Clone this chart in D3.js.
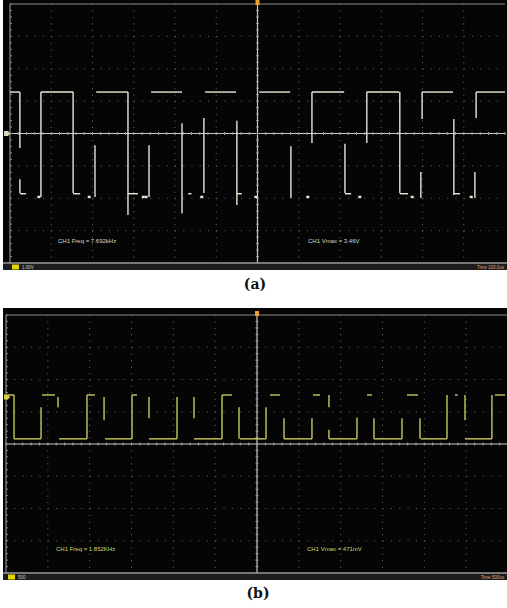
<!DOCTYPE html>
<html>
<head>
<meta charset="utf-8">
<script src="https://cdn.jsdelivr.net/npm/d3@7"></script>
<style>
  body { margin: 0; background: #fff; }
  svg { display: block; }
</style>
</head>
<body>
<svg id="chart" width="507" height="608"></svg>
<script>
// ---- data read off the two scope captures ----
// (a): time in us (100 us/div), level in V (1 V/div)
var aHighRuns = [[-600,-576],[-525,-447],[-391,-314],[-258,-183],[-127,-52],[4,79],[132,210],[265,343],[399,474],[530,600]];
var aHighLevel = 1.28;
var aEdges = [
  [-576, 1.28, -0.45], [-576, -1.41, -1.84], [-525, 1.28, -1.96], [-447, 1.28, -1.84],
  [-394, -0.36, -1.96], [-314, 1.28, -2.52], [-263, -0.36, -1.96], [-183, 0.32, -2.46],
  [-130, 0.48, -1.84], [-50, 0.39, -2.21], [81, -0.39, -1.99], [132, 1.28, -0.29],
  [212, -0.32, -1.84], [265, 1.28, -0.29], [345, 1.28, -1.84], [396, -1.19, -1.99],
  [399, 1.28, 0.45], [476, 0.45, -1.90], [527, -1.19, -1.99], [530, 1.28, 0.48]
];
var aLowRuns = [[-576,-561],[-447,-430],[-314,-290],[-168,-160],[-50,-38],[212,227],[345,365],[476,491]];
var aLowLevel = -1.86;
var aDots = [[-530,-1.96],[-408,-1.96],[-277,-1.96],[-270,-1.96],[-135,-1.96],[-4,-1.96],[122,-1.96],[248,-1.96],[375,-1.96],[518,-1.96]];
var aTexts = ["CH1 Freq = 7.692kHz", "CH1 Vmax = 3.46V"];
var aStatus = ["1.00V", "Time 100.0us"];

// (b): time in us (500 us/div), level in V (0.5 V/div)
var bHighRuns = [[-2976,-2904],[-2569,-2414],[-2032,-1936],[-1494,-1434],[-418,-299],[155,275],[669,753],[1315,1374],[1793,1924],[2366,2400],[2844,2964]];
var bHighLevel = 0.76;
var bEdges = [
  [-2904, 0.76, 0.08], [-2581, 0.57, 0.08], [-2378, 0.73, 0.57], [-2032, 0.76, 0.08],
  [-1828, 0.73, 0.37], [-1494, 0.76, 0.08], [-1291, 0.73, 0.40], [-956, 0.73, 0.08],
  [-753, 0.73, 0.40], [-418, 0.76, 0.08], [-215, 0.57, 0.08], [108, 0.57, 0.08],
  [323, 0.40, 0.08], [657, 0.40, 0.08], [860, 0.76, 0.57], [860, 0.22, 0.08],
  [1195, 0.41, 0.08], [1398, 0.40, 0.08], [1733, 0.40, 0.08], [1948, 0.40, 0.08],
  [2271, 0.76, 0.08], [2486, 0.76, 0.37], [2808, 0.76, 0.08]
];
var bLowRuns = [[-2904,-2581],[-2366,-2032],[-1816,-1494],[-1291,-956],[-753,-418],[-203,108],[323,657],[860,1195],[1398,1733],[1960,2271],[2486,2808]];
var bLowLevel = 0.08;
var bDots = [];
var bTexts = ["CH1 Freq = 1.852KHz", "CH1 Vmax = 471mV"];
var bStatus = ["500", "Time 500us"];

var svg = d3.select("#chart");
svg.append("rect").attr("width", 507).attr("height", 608).attr("fill", "#fff");

function drawScope(p) {
  var g = svg.append("g");
  var x = d3.scaleLinear().domain(p.xDomain).range([p.gx0, p.gx1]);
  var y = d3.scaleLinear().domain(p.yDomain).range([p.gy1, p.gy0]);

  // screen
  g.append("rect").attr("x", p.left).attr("y", p.top)
    .attr("width", p.right - p.left).attr("height", p.bottom - p.top).attr("fill", "#050505");

  // dotted grid
  var xt = d3.range(p.xDomain[0], p.xDomain[1] + 1e-6, (p.xDomain[1] - p.xDomain[0]) / 12);
  var yt = d3.range(p.yDomain[0], p.yDomain[1] + 1e-6, (p.yDomain[1] - p.yDomain[0]) / 8);
  var dx = (p.gx1 - p.gx0) / 60, dy = (p.gy1 - p.gy0) / 40;
  g.selectAll(".vg").data(xt.slice(1, -1)).enter().append("line")
    .attr("x1", d => x(d)).attr("x2", d => x(d)).attr("y1", p.gy0).attr("y2", p.gy1)
    .attr("stroke", "#6a6a6a").attr("stroke-width", 1)
    .attr("stroke-dasharray", "1," + (dy - 1));
  g.selectAll(".hg").data(yt.slice(1, -1)).enter().append("line")
    .attr("y1", d => y(d)).attr("y2", d => y(d)).attr("x1", p.gx0).attr("x2", p.gx1)
    .attr("stroke", "#6a6a6a").attr("stroke-width", 1)
    .attr("stroke-dasharray", "1," + (dx - 1));

  // border
  g.append("line").attr("x1", p.gx0).attr("x2", p.gx1).attr("y1", p.gy0).attr("y2", p.gy0)
    .attr("stroke", "#8a8a8a").attr("stroke-width", 1.2);
  g.append("line").attr("x1", p.gx0).attr("x2", p.gx0).attr("y1", p.gy0).attr("y2", p.gy1)
    .attr("stroke", "#8a8a8a").attr("stroke-width", 1.2);

  // centre cross-hair with minor ticks
  var cx = x(0), cy = y(0);
  g.append("line").attr("x1", p.gx0).attr("x2", p.gx1).attr("y1", cy).attr("y2", cy)
    .attr("stroke", "#c8c8c8").attr("stroke-width", 1.2);
  g.append("line").attr("x1", cx).attr("x2", cx).attr("y1", p.gy0).attr("y2", p.gy1)
    .attr("stroke", "#c8c8c8").attr("stroke-width", 1.2);
  var xm = d3.range(p.gx0, p.gx1 + 0.1, dx), ym = d3.range(p.gy0, p.gy1 + 0.1, dy);
  g.selectAll(".xm").data(xm).enter().append("line")
    .attr("x1", d => d).attr("x2", d => d).attr("y1", cy - 1.5).attr("y2", cy + 1.5)
    .attr("stroke", "#9a9a9a");
  g.selectAll(".ym").data(ym).enter().append("line")
    .attr("y1", d => d).attr("y2", d => d).attr("x1", cx - 1.5).attr("x2", cx + 1.5)
    .attr("stroke", "#9a9a9a");
  g.selectAll(".lm").data(ym).enter().append("line")
    .attr("y1", d => d).attr("y2", d => d).attr("x1", p.gx0).attr("x2", p.gx0 + 2)
    .attr("stroke", "#8a8a8a");

  // trace
  var line = d3.line().x(d => x(d[0])).y(d => y(d[1]));
  var segs = [];
  p.high.forEach(r => segs.push([[r[0], p.highLevel], [r[1], p.highLevel]]));
  p.low.forEach(r => segs.push([[r[0], p.lowLevel], [r[1], p.lowLevel]]));
  p.edges.forEach(e => segs.push([[e[0], e[1]], [e[0], e[2]]]));
  g.selectAll(".tr").data(segs).enter().append("path")
    .attr("d", line).attr("fill", "none")
    .attr("stroke", p.traceColor).attr("stroke-width", 1.4);
  g.selectAll(".dt").data(p.dots).enter().append("rect")
    .attr("x", d => x(d[0]) - 1.5).attr("y", d => y(d[1]) - 1.2)
    .attr("width", 3).attr("height", 2.4).attr("fill", p.traceColor);

  // measurements
  g.selectAll(".ms").data(p.texts).enter().append("text")
    .attr("x", (d, i) => p.textX[i]).attr("y", p.textY)
    .attr("font-family", "Liberation Sans, Arial, sans-serif").attr("font-size", 6)
    .attr("fill", p.textColor).text(d => d);

  // status bar
  g.append("rect").attr("x", p.left).attr("y", p.gy1).attr("width", p.right - p.left)
    .attr("height", p.bottom - p.gy1).attr("fill", "#1c1c1c");
  g.append("line").attr("x1", p.left).attr("x2", p.right).attr("y1", p.gy1).attr("y2", p.gy1)
    .attr("stroke", "#9a9a9a").attr("stroke-width", 1.5);
  g.append("rect").attr("x", p.gx0 + 2).attr("y", p.gy1 + 1.5).attr("width", 7).attr("height", 5)
    .attr("fill", "#e0d800");
  g.append("text").attr("x", p.gx0 + 12).attr("y", p.gy1 + 6).attr("font-size", 4.5)
    .attr("font-family", "Liberation Sans, Arial, sans-serif").attr("fill", "#cfcfcf").text(p.status[0]);
  g.append("text").attr("x", 504).attr("y", p.gy1 + 6).attr("font-size", 4.5).attr("text-anchor", "end")
    .attr("font-family", "Liberation Sans, Arial, sans-serif").attr("fill", "#e0a070").text(p.status[1]);

  // trigger position marker and channel marker
  g.append("rect").attr("x", cx - 2).attr("y", p.gy0 - 4).attr("width", 4).attr("height", 5)
    .attr("fill", "#f0a030");
  g.append("path")
    .attr("d", "M" + (p.left + 1) + "," + (y(p.markLevel) - 2.5) + "h4l2,2.5l-2,2.5h-4z")
    .attr("fill", p.markColor);

  // caption
  svg.append("text").attr("x", p.capX).attr("y", p.capY).attr("text-anchor", "middle")
    .attr("font-family", "DejaVu Serif, serif").attr("font-weight", "bold").attr("font-size", 14)
    .attr("fill", "#111").text(p.caption);
}

drawScope({
  left: 3, top: 0, right: 507, bottom: 270, gx0: 10, gx1: 505, gy0: 4, gy1: 263,
  xDomain: [-600, 600], yDomain: [-4, 4],
  high: aHighRuns, highLevel: aHighLevel, low: aLowRuns, lowLevel: aLowLevel,
  edges: aEdges, dots: aDots, traceColor: "#e6e6d6",
  texts: aTexts, textX: [58, 308], textY: 243, textColor: "#d8d8cc",
  status: aStatus, markLevel: 0, markColor: "#d8d8c0",
  caption: "(a)", capX: 255, capY: 289
});

drawScope({
  left: 3, top: 308, right: 507, bottom: 580, gx0: 6, gx1: 508, gy0: 315, gy1: 573,
  xDomain: [-3000, 3000], yDomain: [-2, 2],
  high: bHighRuns, highLevel: bHighLevel, low: bLowRuns, lowLevel: bLowLevel,
  edges: bEdges, dots: bDots, traceColor: "#c9c860",
  texts: bTexts, textX: [56, 307], textY: 551, textColor: "#d6d670",
  status: bStatus, markLevel: 0.73, markColor: "#d8d040",
  caption: "(b)", capX: 258, capY: 598
});
</script>
</body>
</html>
